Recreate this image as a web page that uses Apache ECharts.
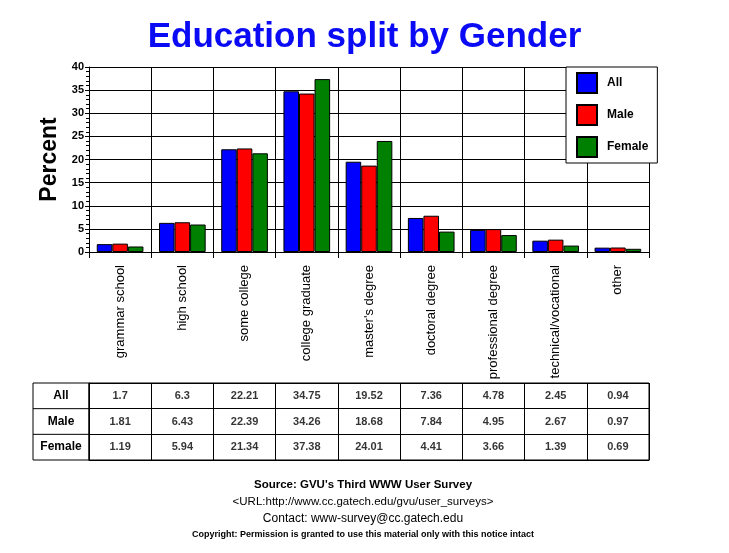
<!DOCTYPE html>
<html>
<head>
<meta charset="utf-8">
<script src="https://cdn.jsdelivr.net/npm/echarts@6/dist/echarts.min.js"></script>
<style>html,body{margin:0;padding:0;background:#fff;}#c{width:729px;height:553px;}</style>
</head>
<body>
<div id="c"></div>
<script>
var categories = ['grammar school','high school','some college','college graduate',"master's degree",'doctoral degree','professional degree','technical/vocational','other'];
var seriesNames = ['All','Male','Female'];
var allValues = [1.7, 6.3, 22.21, 34.75, 19.52, 7.36, 4.78, 2.45, 0.94];
var maleValues = [1.81, 6.43, 22.39, 34.26, 18.68, 7.84, 4.95, 2.67, 0.97];
var femaleValues = [1.19, 5.94, 21.34, 37.38, 24.01, 4.41, 3.66, 1.39, 0.69];
var yTicks = [0, 5, 10, 15, 20, 25, 30, 35, 40];
var footerLines = ["Source: GVU's Third WWW User Survey", "<URL:http://www.cc.gatech.edu/gvu/user_surveys>", "Contact: www-survey@cc.gatech.edu", "Copyright: Permission is granted to use this material only with this notice intact"];

var colors = ['#0000FF', '#FF0000', '#008000'];
var valueSets = [allValues, maleValues, femaleValues];
var FONT = 'Liberation Sans, Arial, Helvetica, sans-serif';

var PL = 89, PR = 649, PT = 67, PB = 252;
var TT = 383, TB = 460, TL = 33;

var tableData = [];
valueSets.forEach(function (vals, j) {
  vals.forEach(function (v, i) {
    tableData.push([categories[i], seriesNames[j], v]);
  });
});

var barSeries = seriesNames.map(function (name, k) {
  return {
    name: name,
    type: 'bar',
    xAxisIndex: 0,
    yAxisIndex: 0,
    data: valueSets[k],
    barGap: '0%',
    barCategoryGap: '25%',
    itemStyle: { color: colors[k], borderColor: '#000', borderWidth: 1 }
  };
});

var chart = echarts.init(document.getElementById('c'), null, { renderer: 'canvas' });
var rowH = (TB - TT) / 3;
chart.setOption({
  animation: false,
  backgroundColor: '#fff',
  title: {
    text: 'Education split by Gender',
    left: 'center',
    top: 20,
    padding: 0,
    textStyle: { color: '#0A0AF5', fontSize: 35, fontWeight: 'bold', fontFamily: FONT }
  },
  legend: {
    data: seriesNames,
    orient: 'vertical',
    left: 566,
    top: 67,
    padding: [5, 9, 5, 10],
    itemWidth: 20,
    itemHeight: 20,
    itemGap: 10,
    icon: 'rect',
    backgroundColor: '#fff',
    borderColor: '#000',
    borderWidth: 1,
    textStyle: { fontSize: 12, fontWeight: 'bold', color: '#000', fontFamily: FONT, padding: [0, 0, 0, 5] }
  },
  grid: [
    { left: PL, right: 729 - PR, top: PT, bottom: 553 - PB, containLabel: false },
    { left: PL, right: 729 - PR, top: TT, bottom: 553 - TB, containLabel: false, show: true, borderColor: '#000', borderWidth: 1, backgroundColor: 'transparent' }
  ],
  xAxis: [
    {
      gridIndex: 0,
      type: 'category',
      data: categories,
      boundaryGap: true,
      axisLine: { show: true, lineStyle: { color: '#000', width: 1 } },
      axisTick: { show: true, interval: 0, length: 6, lineStyle: { color: '#000' } },
      splitLine: { show: true, interval: 0, lineStyle: { color: '#000', width: 1 } },
      axisLabel: { interval: 0, rotate: 90, margin: 13, fontSize: 13, color: '#000', fontFamily: FONT }
    },
    {
      gridIndex: 1,
      type: 'category',
      data: categories,
      boundaryGap: true,
      axisLine: { show: true, lineStyle: { color: '#000' } },
      axisTick: { show: false },
      axisLabel: { show: false },
      splitLine: { show: true, interval: 0, lineStyle: { color: '#000', width: 1 } }
    }
  ],
  yAxis: [
    {
      gridIndex: 0,
      type: 'value',
      min: yTicks[0],
      max: yTicks[yTicks.length - 1],
      interval: yTicks[1] - yTicks[0],
      name: 'Percent',
      nameLocation: 'middle',
      nameGap: 27,
      nameTextStyle: { fontSize: 23, fontWeight: 'bold', color: '#000', fontFamily: FONT },
      axisLine: { show: true, lineStyle: { color: '#000', width: 1 } },
      axisTick: { show: true, length: 4, lineStyle: { color: '#000' } },
      minorTick: { show: true, splitNumber: 5, length: 3, lineStyle: { color: '#000' } },
      splitLine: { show: true, lineStyle: { color: '#000', width: 1 } },
      axisLabel: { margin: 5, fontSize: 11, fontWeight: 'bold', color: '#000', fontFamily: FONT }
    },
    {
      gridIndex: 1,
      type: 'category',
      data: seriesNames,
      inverse: true,
      boundaryGap: true,
      axisLine: { show: true, lineStyle: { color: '#000' } },
      axisTick: { show: false },
      splitLine: { show: true, interval: 0, lineStyle: { color: '#000', width: 1 } },
      axisLabel: { margin: (PL - TL) / 2, align: 'center', fontSize: 12, fontWeight: 'bold', color: '#000', fontFamily: FONT }
    }
  ],
  series: barSeries.concat([{
    type: 'scatter',
    xAxisIndex: 1,
    yAxisIndex: 1,
    data: tableData,
    symbolSize: 1,
    itemStyle: { color: 'rgba(0,0,0,0)' },
    label: {
      show: true,
      position: 'inside',
      formatter: function (p) { return String(p.value[2]); },
      fontSize: 11,
      fontWeight: 'bold',
      color: '#000',
      fontFamily: FONT
    },
    silent: true
  }]),
  graphic: [
    { type: 'rect', shape: { x: TL, y: TT, width: PL - TL, height: TB - TT }, style: { fill: 'none', stroke: '#000', lineWidth: 1 }, silent: true },
    { type: 'line', shape: { x1: TL, y1: TT + rowH, x2: PL, y2: TT + rowH }, style: { stroke: '#000', lineWidth: 1 }, silent: true },
    { type: 'line', shape: { x1: TL, y1: TT + 2 * rowH, x2: PL, y2: TT + 2 * rowH }, style: { stroke: '#000', lineWidth: 1 }, silent: true },
    { type: 'text', x: 363, y: 485, style: { text: footerLines[0], textAlign: 'center', textVerticalAlign: 'middle', font: 'bold 11.5px ' + FONT, fill: '#000' } },
    { type: 'text', x: 363, y: 502, style: { text: footerLines[1], textAlign: 'center', textVerticalAlign: 'middle', font: '11.5px ' + FONT, fill: '#000' } },
    { type: 'text', x: 363, y: 519, style: { text: footerLines[2], textAlign: 'center', textVerticalAlign: 'middle', font: '12px ' + FONT, fill: '#000' } },
    { type: 'text', x: 363, y: 535, style: { text: footerLines[3], textAlign: 'center', textVerticalAlign: 'middle', font: 'bold 9px ' + FONT, fill: '#000' } }
  ]
});
</script>
</body>
</html>
